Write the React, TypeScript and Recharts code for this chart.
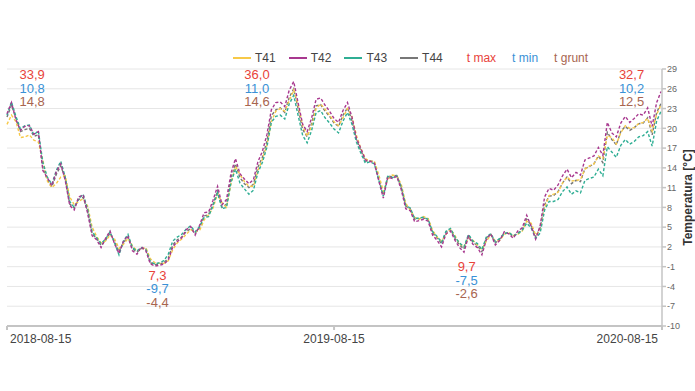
import { LineChart, Line, XAxis, YAxis, CartesianGrid, Legend, ReferenceDot } from 'recharts'

// odczyty co 5 dni od 2018-08-15
const T41 = [
  20.6, 22.0, 21.0, 18.6, 18.7, 19.0, 18.2, 17.9, 15.2, 12.0,
  11.0, 11.6, 12.6, 12.8, 9.6, 8.4, 8.9, 9.3, 8.2, 5.0,
  3.6, 2.6, 2.9, 3.8, 3.2, 1.8, 2.4, 3.3, 2.2, 1.4,
  1.7, 1.9, 0.2, -0.4, -0.5, -0.5, -0.1, 1.6, 2.6, 3.2,
  3.9, 4.6, 4.3, 4.5, 6.1, 6.9, 7.9, 10.1, 8.7, 8.0,
  11.6, 14.2, 13.0, 11.9, 11.2, 11.2, 13.5, 15.3, 17.4, 21.0,
  22.6, 23.0, 22.6, 24.2, 25.8, 23.5, 20.4, 18.8, 20.3, 23.0,
  23.7, 22.9, 22.0, 21.0, 20.4, 21.6, 23.0, 21.8, 18.9, 16.9,
  15.4, 15.0, 15.0, 12.9, 10.4, 12.3, 12.9, 12.8, 11.5, 8.6,
  7.6, 6.5, 6.2, 6.6, 6.3, 4.5, 3.5, 2.9, 3.9, 4.7,
  3.7, 2.5, 2.0, 3.4, 3.0, 2.3, 1.6, 2.9, 3.8, 2.9,
  3.0, 3.9, 4.2, 3.7, 3.9, 4.4, 5.9, 5.6, 3.8, 4.5,
  7.9, 9.8, 10.0, 10.3, 11.7, 12.6, 12.0, 12.1, 12.2, 13.8,
  14.3, 14.6, 15.8, 15.4, 18.9, 18.6, 17.6, 19.3, 20.4, 20.0,
  20.1, 20.7, 20.9, 21.5, 19.6, 22.1, 23.6,
]

const T42 = [
  22.2, 23.9, 21.3, 19.7, 20.3, 20.4, 19.1, 19.5, 13.6, 12.5,
  11.3, 13.4, 14.6, 12.1, 8.3, 7.6, 9.6, 9.9, 7.1, 3.7,
  3.1, 1.9, 3.3, 4.4, 2.5, 1.0, 2.9, 3.7, 1.4, 0.9,
  2.0, 1.4, -0.6, -0.9, -0.8, -0.6, 0.0, 2.0, 2.8, 3.4,
  4.6, 5.1, 3.8, 5.3, 7.2, 7.3, 9.1, 11.2, 8.4, 9.2,
  13.2, 15.4, 13.1, 12.3, 11.6, 12.2, 14.9, 16.5, 19.0, 22.8,
  23.9, 24.0, 23.3, 25.8, 27.1, 23.8, 20.6, 19.5, 21.6, 24.4,
  24.6, 23.5, 22.6, 21.5, 20.9, 22.7, 23.9, 21.7, 18.5, 16.9,
  15.2, 15.0, 14.7, 12.0, 9.4, 12.6, 12.4, 12.7, 10.7, 7.8,
  7.5, 5.8, 6.0, 6.2, 5.9, 3.8, 3.0, 2.0, 4.0, 4.4,
  3.0, 1.9, 1.2, 3.6, 2.4, 1.9, 0.8, 3.1, 4.0, 2.3,
  3.0, 4.3, 4.0, 3.3, 4.4, 4.9, 6.8, 5.1, 3.2, 5.2,
  9.6, 10.9, 10.6, 11.4, 12.8, 13.8, 12.5, 13.3, 12.9, 15.2,
  15.5, 15.8, 17.1, 15.9, 20.9, 19.3, 18.7, 20.8, 21.8, 20.9,
  21.5, 22.2, 22.0, 23.1, 20.3, 23.9, 25.6,
]

const T43 = [
  22.0, 24.0, 21.8, 19.9, 20.4, 20.5, 19.0, 19.6, 14.8, 12.6,
  11.5, 13.6, 15.0, 12.6, 8.9, 8.0, 9.3, 10.0, 7.7, 4.3,
  3.4, 2.5, 3.2, 4.3, 2.6, 0.8, 2.9, 3.9, 1.9, 1.4,
  1.9, 1.6, -0.2, -0.6, -0.4, -0.1, 0.9, 2.9, 3.5, 3.9,
  4.7, 5.2, 4.3, 5.1, 6.5, 6.6, 8.3, 10.2, 7.8, 8.0,
  11.8, 13.8, 11.7, 10.8, 10.0, 10.6, 13.3, 14.8, 17.1, 20.9,
  21.8, 22.0, 21.4, 23.7, 25.0, 21.9, 18.9, 17.8, 19.7, 22.4,
  22.7, 21.6, 20.8, 19.9, 19.3, 21.1, 22.4, 20.6, 17.9, 16.2,
  14.7, 14.9, 14.6, 12.1, 9.7, 12.7, 12.5, 12.8, 11.1, 8.3,
  7.9, 6.3, 6.4, 6.5, 6.2, 4.3, 3.6, 2.7, 4.4, 4.8,
  3.5, 2.6, 2.0, 3.9, 2.9, 2.5, 1.6, 3.5, 4.0, 2.8,
  3.3, 4.0, 4.2, 3.7, 4.0, 4.5, 5.6, 4.9, 3.3, 4.1,
  7.6, 8.9, 8.9, 9.2, 10.4, 11.1, 10.0, 10.5, 10.2, 12.1,
  12.4, 12.6, 13.8, 12.8, 17.2, 16.4, 15.6, 17.4, 18.3, 17.6,
  18.0, 18.7, 18.9, 19.5, 17.3, 21.1, 22.6,
]

const T44 = [
  21.7, 23.5, 21.5, 19.5, 19.8, 20.0, 18.8, 19.0, 14.0, 12.2,
  11.1, 13.0, 14.3, 12.4, 8.5, 7.9, 9.2, 9.5, 7.4, 4.0,
  3.3, 2.2, 3.0, 4.1, 2.8, 1.3, 2.7, 3.5, 1.7, 1.2,
  1.8, 1.7, -0.4, -0.7, -0.6, -0.4, 0.3, 2.3, 3.1, 3.5,
  4.3, 4.8, 4.1, 4.9, 6.7, 6.9, 8.5, 10.5, 8.0, 8.5,
  12.5, 14.6, 12.5, 11.6, 11.0, 11.5, 14.1, 15.6, 18.0, 21.9,
  22.8, 23.1, 22.4, 24.7, 26.0, 22.9, 19.8, 18.7, 20.8, 23.4,
  23.6, 22.6, 21.8, 20.8, 20.3, 22.0, 23.1, 21.2, 18.3, 16.6,
  15.0, 15.1, 14.9, 12.2, 9.9, 12.8, 12.6, 12.9, 11.0, 8.2,
  7.8, 6.2, 6.3, 6.4, 6.1, 4.1, 3.4, 2.5, 4.3, 4.6,
  3.3, 2.3, 1.7, 3.8, 2.7, 2.2, 1.3, 3.4, 3.9, 2.6,
  3.2, 4.1, 4.1, 3.6, 4.1, 4.6, 6.2, 5.3, 3.5, 4.9,
  8.4, 9.7, 9.8, 10.4, 11.7, 12.6, 11.6, 12.1, 11.9, 13.9,
  14.2, 14.6, 15.8, 14.8, 19.4, 18.3, 17.5, 19.5, 20.3, 19.7,
  20.1, 20.7, 20.8, 21.6, 19.0, 22.4, 23.8,
]

const DAY = 86400000
const START = Date.UTC(2018, 7, 15)
const END = Date.UTC(2020, 7, 15)
const STEP_DAYS = 5

const X_TICKS = ['2018-08-15', '2019-08-15', '2020-08-15']
const Y_TICKS = [-10, -7, -4, -1, 2, 5, 8, 11, 14, 17, 20, 23, 26, 29]

// podsumowania: t max, t min, t grunt
const SUMMER_DATES = ['2018-09-12', '2019-05-21', '2020-07-12']
const SUMMER_MAX = ['33,9', '36,0', '32,7']
const SUMMER_MIN = ['10,8', '11,0', '10,2']
const SUMMER_GRUNT = ['14,8', '14,6', '12,5']
const WINTER_DATES = ['2019-01-30', '2020-01-10']
const WINTER_MAX = ['7,3', '9,7']
const WINTER_MIN = ['-9,7', '-7,5']
const WINTER_GRUNT = ['-4,4', '-2,6']
const WINTER_ANCHOR = [-2.3, -1.0]
const SUMMER_ANCHOR = 28.1

const SERIES = [
  { key: 'T41', color: '#f7c948' },
  { key: 'T42', color: '#a8388f' },
  { key: 'T43', color: '#2fae94' },
  { key: 'T44', color: '#777777' },
]
// szara T44 leży pod pozostałymi
const DRAW_ORDER = ['T44', 'T41', 'T43', 'T42']
const TEXT_ITEMS = [
  { name: 't max', color: '#e8433a' },
  { name: 't min', color: '#3a91d6' },
  { name: 't grunt', color: '#a8654f' },
]

const FONT = '"Liberation Sans", Arial, sans-serif'

const data = T41.map((v, i) => ({
  t: START + i * STEP_DAYS * DAY,
  T41: v,
  T42: T42[i],
  T43: T43[i],
  T44: T44[i],
}))

const toTs = (s: string) => Date.parse(s + 'T00:00:00Z')

function DateTick(props: any) {
  const { x, y, payload, index } = props
  const last = X_TICKS.length - 1
  const anchor = index === 0 ? 'start' : index === last ? 'end' : 'middle'
  const dx = index === 0 ? 3 : index === last ? -4 : 0
  const d = new Date(payload.value).toISOString().slice(0, 10)
  return (
    <text x={x + dx} y={y} dy={11} textAnchor={anchor} fill="#444" fontSize={12} fontFamily={FONT}>
      {d}
    </text>
  )
}

function AxisTitle(props: any) {
  const { viewBox } = props
  const cx = viewBox.x + viewBox.width - 7
  const cy = viewBox.y + viewBox.height / 2
  return (
    <text
      x={cx}
      y={cy}
      transform={`rotate(-90 ${cx} ${cy})`}
      textAnchor="middle"
      dominantBaseline="central"
      fontSize={12}
      fontWeight="bold"
      fill="#333"
      fontFamily={FONT}
    >
      Temperatura [°C]
    </text>
  )
}

function StatLabel(props: any) {
  const { viewBox, lines } = props
  const cx = viewBox.x
  const cy = viewBox.y
  const colors = TEXT_ITEMS.map((t) => t.color)
  return (
    <g>
      {lines.map((s: string, i: number) => (
        <text
          key={i}
          x={cx}
          y={cy + i * 13.5}
          textAnchor="middle"
          dominantBaseline="central"
          fontSize={13}
          fill={colors[i]}
          fontFamily={FONT}
        >
          {s}
        </text>
      ))}
    </g>
  )
}

function LegendContent() {
  return (
    <div style={{ height: 22, display: 'flex', alignItems: 'center', paddingLeft: 226, fontFamily: FONT, fontSize: 12 }}>
      {SERIES.map((s) => (
        <span key={s.key} style={{ display: 'flex', alignItems: 'center', marginRight: 13 }}>
          <svg width={18} height={4} style={{ marginRight: 4 }}>
            <line x1={0} y1={2} x2={18} y2={2} stroke={s.color} strokeWidth={2} />
          </svg>
          <span style={{ color: '#444' }}>{s.key}</span>
        </span>
      ))}
      <span style={{ width: 11 }} />
      {TEXT_ITEMS.map((t) => (
        <span key={t.name} style={{ color: t.color, marginRight: 16 }}>
          {t.name}
        </span>
      ))}
    </div>
  )
}

export default function App() {
  return (
    <div style={{ position: 'absolute', left: 0, top: 0, width: 695, height: 391, background: '#fff' }}>
      <LineChart width={695} height={391} data={data} margin={{ top: 47, right: 0, left: 7, bottom: 35 }}>
        <CartesianGrid horizontal vertical={false} stroke="#e6e6e6" />
        <Legend verticalAlign="top" content={<LegendContent />} />
        <XAxis
          dataKey="t"
          type="number"
          scale="time"
          domain={[START, END]}
          ticks={X_TICKS.map(toTs)}
          interval={0}
          tick={<DateTick />}
          tickSize={4}
          tickMargin={2}
          height={30}
          stroke="#c4c4c4"
          strokeWidth={2}
        />
        <YAxis yAxisId="left" orientation="left" width={0} tick={false} tickLine={false} domain={[-10, 29]} stroke="#c4c4c4" strokeWidth={2} />
        <YAxis
          orientation="right"
          domain={[-10, 29]}
          ticks={Y_TICKS}
          interval={0}
          width={33}
          tickSize={4}
          tickMargin={1}
          tick={{ fontSize: 9, fill: '#666', fontFamily: FONT, textAnchor: 'start' }}
          stroke="#c4c4c4"
          strokeWidth={1.5}
          label={<AxisTitle />}
        />
        {DRAW_ORDER.map((k) => (
          <Line
            key={k}
            type="linear"
            dataKey={k}
            stroke={SERIES.find((s) => s.key === k)!.color}
            strokeWidth={1.4}
            strokeDasharray="3 2"
            dot={false}
            isAnimationActive={false}
          />
        ))}
        {SUMMER_DATES.map((d, i) => (
          <ReferenceDot
            key={'s' + i}
            x={toTs(d)}
            y={SUMMER_ANCHOR}
            r={0}
            ifOverflow="visible"
            label={<StatLabel lines={[SUMMER_MAX[i], SUMMER_MIN[i], SUMMER_GRUNT[i]]} />}
          />
        ))}
        {WINTER_DATES.map((d, i) => (
          <ReferenceDot
            key={'w' + i}
            x={toTs(d)}
            y={WINTER_ANCHOR[i]}
            r={0}
            ifOverflow="visible"
            label={<StatLabel lines={[WINTER_MAX[i], WINTER_MIN[i], WINTER_GRUNT[i]]} />}
          />
        ))}
      </LineChart>
    </div>
  )
}
